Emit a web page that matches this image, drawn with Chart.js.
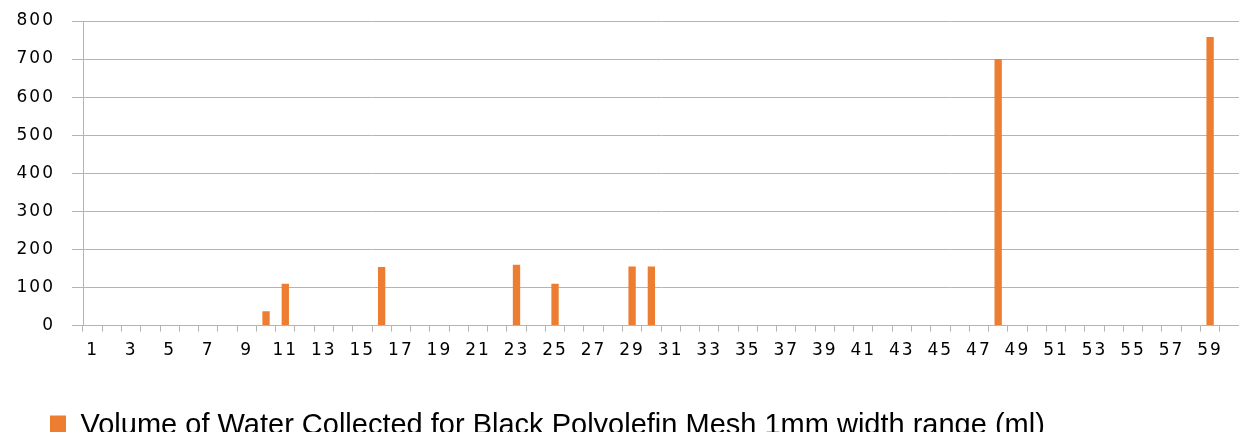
<!DOCTYPE html>
<html>
<head>
<meta charset="utf-8">
<script src="https://cdn.jsdelivr.net/npm/chart.js@4"></script>
<style>
  html, body { margin: 0; padding: 0; background: #fff; overflow: hidden; }
  #wrap { width: 1239px; height: 432px; overflow: hidden; }
  canvas { display: block; }
</style>
</head>
<body>
<div id="wrap"><canvas id="c" width="1239" height="450"></canvas></div>
<script>
// Categories 1..60 (written out)
const categories = [
  '1','2','3','4','5','6','7','8','9','10',
  '11','12','13','14','15','16','17','18','19','20',
  '21','22','23','24','25','26','27','28','29','30',
  '31','32','33','34','35','36','37','38','39','40',
  '41','42','43','44','45','46','47','48','49','50',
  '51','52','53','54','55','56','57','58','59','60'
];
// Volume of water collected (ml)
const volumes = [
  0, 0, 0, 0, 0, 0, 0, 0, 0, 38,
  110, 0, 0, 0, 0, 154, 0, 0, 0, 0,
  0, 0, 160, 0, 110, 0, 0, 0, 155, 155,
  0, 0, 0, 0, 0, 0, 0, 0, 0, 0,
  0, 0, 0, 0, 0, 0, 0, 700, 0, 0,
  0, 0, 0, 0, 0, 0, 0, 0, 758, 0
];
const seriesLabel = 'Volume of Water Collected for Black Polyolefin Mesh 1mm width range (ml)';
const yTicks = [0, 100, 200, 300, 400, 500, 600, 700, 800];

const gridColor = '#b4b4b4';
const tickFont = { family: 'DejaVu Sans', size: 17 };

// widen tick labels slightly (letter spacing) only while the axis labels are drawn
const spacingPlugin = {
  id: 'spacing',
  afterLayout(chart) {
    Object.values(chart.scales).forEach(s => {
      if (s._spacedWrap) return;
      const orig = s.drawLabels;
      s.drawLabels = function(area) {
        const c = this.ctx;
        c.save();
        c.letterSpacing = '2px';
        orig.call(this, area);
        c.restore();
      };
      s._spacedWrap = true;
    });
  }
};

const ctx = document.getElementById('c').getContext('2d');
new Chart(ctx, {
  type: 'bar',
  data: {
    labels: categories,
    datasets: [{
      label: seriesLabel,
      data: volumes,
      backgroundColor: '#ED7D31',
      borderWidth: 0,
      categoryPercentage: 1.0,
      barPercentage: 0.38
    }]
  },
  options: {
    responsive: false,
    animation: false,
    layout: { padding: { top: 21, left: 0, right: 0, bottom: 0 } },
    plugins: {
      legend: {
        position: 'bottom',
        align: 'start',
        labels: {
          boxWidth: 16,
          boxHeight: 20,
          padding: 50,
          color: '#000',
          font: { family: 'Liberation Sans', size: 29 }
        }
      },
      tooltip: { enabled: false }
    },
    scales: {
      x: {
        afterFit: function(scale) {
          scale.height = scale.height - 9;
          scale.paddingLeft = 0;
          scale.paddingRight = 0;
        },
        grid: {
          display: true,
          drawOnChartArea: false,
          drawTicks: true,
          tickLength: 6,
          color: gridColor,
          offset: true
        },
        border: { display: true, color: gridColor },
        ticks: {
          color: '#000',
          font: tickFont,
          maxRotation: 0,
          autoSkip: false,
          padding: 9,
          callback: function(v, i) { return i % 2 === 0 ? categories[i] : ''; }
        }
      },
      y: {
        min: 0,
        max: 800,
        afterBuildTicks: function(scale) { scale.ticks = yTicks.map(v => ({ value: v })); },
        afterFit: function(scale) {
          scale.width = 83;
          scale.paddingTop = 0;
          scale.paddingBottom = 0;
        },
        grid: { color: gridColor, tickLength: 11 },
        border: { display: true, color: gridColor },
        ticks: {
          color: '#000',
          font: tickFont,
          padding: 17
        }
      }
    }
  },
  plugins: [spacingPlugin]
});
</script>
</body>
</html>
